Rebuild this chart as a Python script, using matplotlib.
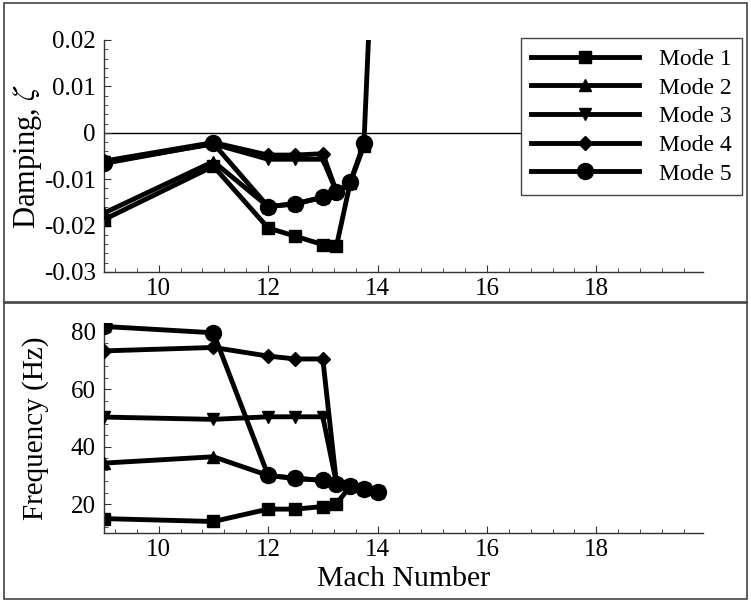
import numpy as np
import matplotlib
matplotlib.use("Agg")
import matplotlib.pyplot as plt
from matplotlib.ticker import AutoMinorLocator, MultipleLocator
from matplotlib.patches import Rectangle

plt.rcParams['font.family'] = ['Liberation Serif', 'DejaVu Serif']
plt.rcParams['mathtext.fontset'] = 'stix'

# Mach numbers for each mode
mach_1 = [9, 11, 12, 12.5, 13, 13.25, 13.5, 13.75, 14]
mach_2 = [9, 11, 12, 12.5, 13]
mach_3 = [9, 11, 12, 12.5, 13, 13.25]
mach_4 = [9, 11, 12, 12.5, 13, 13.25]
mach_5 = [9, 11, 12, 12.5, 13, 13.25, 13.5, 13.75, 14]

# damping (zeta)
damp_1 = [-0.0187, -0.0072, -0.0205, -0.0223, -0.0241, -0.0244, -0.0108, -0.0028, 0.065]
damp_2 = [-0.0173, -0.0062, -0.0159, -0.0153, -0.0139]
damp_3 = [-0.0063, -0.0024, -0.0057, -0.0057, -0.0057, -0.0127]
damp_4 = [-0.0061, -0.0021, -0.0048, -0.0048, -0.0045, -0.0127]
damp_5 = [-0.0066, -0.0023, -0.0159, -0.0153, -0.0139, -0.0127, -0.0107, -0.0023, np.nan]

# frequency (Hz)
freq_1 = [15, 14, 18.3, 18.3, 19.2, 20.2, 26.2, 25.3, 24.4]
freq_2 = [34.3, 36.5, 30, 29, 28.3]
freq_3 = [50.3, 49.5, 50.4, 50.4, 50.4, 27.2]
freq_4 = [73.3, 74.5, 71.5, 70.5, 70.5, 27.2]
freq_5 = [81.8, 79.6, 30, 29, 28.3, 27.2, 26.2, 25.3, 24.4]

labels = ['Mode 1', 'Mode 2', 'Mode 3', 'Mode 4', 'Mode 5']
markers = ['s', '^', 'v', 'D', 'o']
msizes = [8, 8, 8, 7.5, 11.5]

machs = [mach_1, mach_2, mach_3, mach_4, mach_5]
damps = [damp_1, damp_2, damp_3, damp_4, damp_5]
freqs = [freq_1, freq_2, freq_3, freq_4, freq_5]

fig = plt.figure(figsize=(7.51, 6.0), dpi=100)

# panel frames
fig.patches.append(Rectangle((4/751, 1-303/600), 743/751, 300/600, transform=fig.transFigure,
                             fill=False, edgecolor='#444444', lw=1.2))
fig.patches.append(Rectangle((4/751, 0.001), 743/751, 297/600, transform=fig.transFigure,
                             fill=False, edgecolor='#444444', lw=1.2))

ax1 = fig.add_axes([104/751, 1-272/600, 599/751, 232/600])
ax2 = fig.add_axes([104/751, 1-533/600, 599/751, 210/600])

ax1.axhline(0, color='black', lw=1, zorder=1)

for i in range(5):
    ax1.plot(machs[i], damps[i], color='black', lw=3.5, marker=markers[i],
             ms=msizes[i], label=labels[i], zorder=2+i)
    ax2.plot(machs[i], freqs[i], color='black', lw=3.5, marker=markers[i],
             ms=msizes[i], zorder=2+i)

for ax in (ax1, ax2):
    ax.set_xlim(9, 19.95)
    ax.xaxis.set_major_locator(MultipleLocator(2))
    ax.xaxis.set_minor_locator(AutoMinorLocator(5))
    ax.yaxis.set_minor_locator(AutoMinorLocator(5))
    ax.spines['top'].set_visible(False)
    ax.spines['right'].set_visible(False)
    for s in ('left', 'bottom'):
        ax.spines[s].set_color('#333333')
        ax.spines[s].set_linewidth(1)
    ax.tick_params(which='both', direction='in', labelsize=18, color='#333333')
    ax.tick_params(which='major', length=5)
    ax.tick_params(which='minor', length=3)
    ax.tick_params(axis='y', pad=6)
    ax.tick_params(axis='x', pad=4)
    ax.set_xticks([10, 12, 14, 16, 18])

ax1.set_ylim(-0.03, 0.02)
ax1.set_yticks([-0.03, -0.02, -0.01, 0, 0.01, 0.02])
ax1.set_yticklabels(['-0.03', '-0.02', '-0.01', '0', '0.01', '0.02'])
ax1.set_ylabel(r'Damping, $\zeta$', fontsize=22)
ax1.yaxis.set_label_coords(-0.1, 0.5)

ax2.set_ylim(10, 83)
ax2.set_yticks([20, 40, 60, 80])
ax2.set_ylabel('Frequency (Hz)', fontsize=21)
ax2.yaxis.set_label_coords(-0.092, 0.5)
ax2.set_xlabel('Mach Number', fontsize=21.5)
ax2.xaxis.set_label_coords(0.5, -0.155)

leg = ax1.legend(loc='upper right', bbox_to_anchor=(742/751, 1-38/600),
                 bbox_transform=fig.transFigure, borderaxespad=0, fontsize=17,
                 handlelength=4.55, numpoints=1, fancybox=False, framealpha=1,
                 labelspacing=0.3, handletextpad=0.85, borderpad=0.45)
leg.get_frame().set_edgecolor('#444444')
leg.get_frame().set_linewidth(1)

fig.savefig('out.png', dpi=100)
